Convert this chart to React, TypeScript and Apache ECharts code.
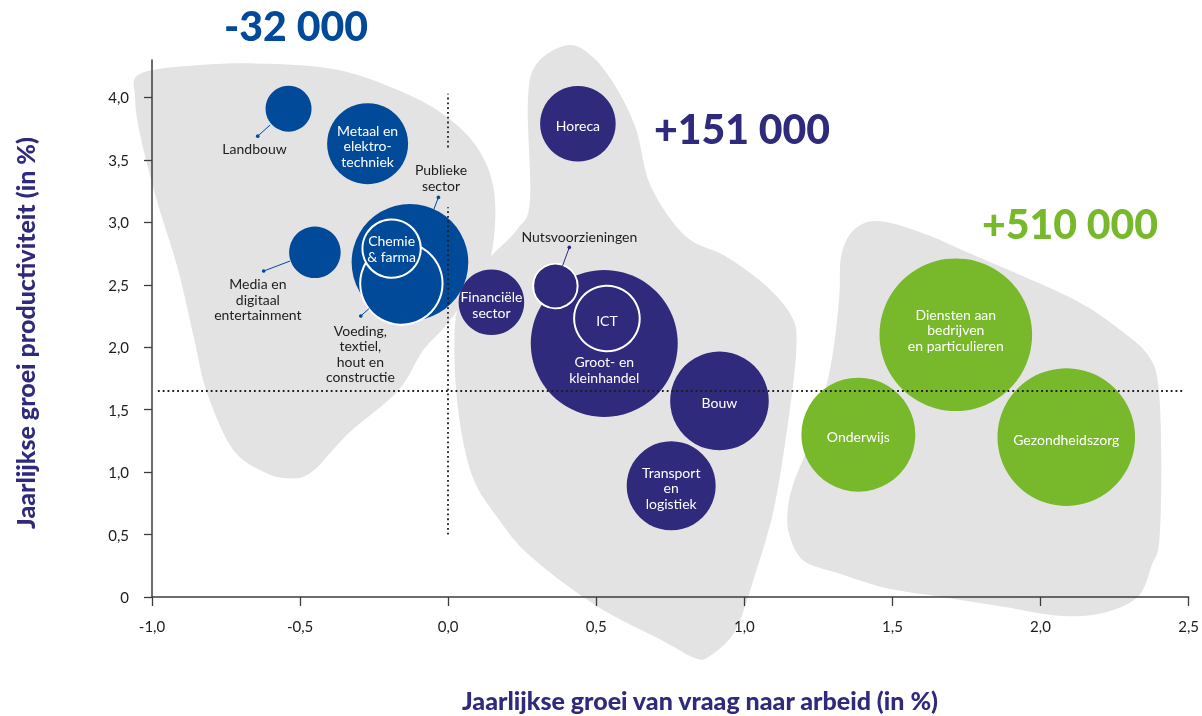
import { useEffect, useRef } from 'react';
import * as echarts from 'echarts';

// ---------- data ----------
const sectors = [
  'Landbouw',
  'Metaal en elektrotechniek',
  'Media en digitaal entertainment',
  'Publieke sector',
  'Voeding, textiel, hout en constructie',
  'Chemie & farma',
  'Financiële sector',
  'Horeca',
  'Groot- en kleinhandel',
  'ICT',
  'Nutsvoorzieningen',
  'Bouw',
  'Transport en logistiek',
  'Diensten aan bedrijven en particulieren',
  'Onderwijs',
  'Gezondheidszorg',
];
const labelTexts = [
  'Landbouw',
  'Metaal en\nelektro-\ntechniek',
  'Media en\ndigitaal\nentertainment',
  'Publieke\nsector',
  'Voeding,\ntextiel,\nhout en\nconstructie',
  'Chemie\n& farma',
  'Financiële\nsector',
  'Horeca',
  'Groot- en\nkleinhandel',
  'ICT',
  'Nutsvoorzieningen',
  'Bouw',
  'Transport\nen\nlogistiek',
  'Diensten aan\nbedrijven\nen particulieren',
  'Onderwijs',
  'Gezondheidszorg',
];
// x: yearly growth of labour demand (%)
const demandGrowth = [-0.539, -0.272, -0.45, -0.129, -0.158, -0.191, 0.146, 0.438, 0.527, 0.536, 0.362, 0.916, 0.753, 1.714, 1.385, 2.087];
// y: yearly productivity growth (%)
const productivityGrowth = [3.91, 3.63, 2.76, 2.68, 2.51, 2.79, 2.36, 3.79, 2.03, 2.23, 2.49, 1.57, 0.89, 2.1, 1.3, 1.28];
// bubble area: employment (thousands, estimated)
const employment = [132, 410, 166, 850, 424, 213, 269, 357, 1350, 269, 124, 608, 495, 1455, 812, 1183];
// cluster index per sector
const clusterOf = [0, 0, 0, 0, 0, 0, 1, 1, 1, 1, 1, 1, 1, 2, 2, 2];
const clusterTotals = ['-32 000', '+151 000', '+510 000'];

const xTicks = [-1, -0.5, 0, 0.5, 1, 1.5, 2, 2.5];
const yTicks = [0, 0.5, 1, 1.5, 2, 2.5, 3, 3.5, 4];

const xAxisTitle = 'Jaarlijkse groei van vraag naar arbeid (in %)';
const yAxisTitle = 'Jaarlijkse groei productiviteit (in %)';

// reference lines
const meanProductivity = 1.65;
const hLineRange = [-0.98, 2.48];
const vLineSegments = [[0.5, 3.12], [3.6, 4.03]];

// background cluster outlines (data units)
const blobLeft = [
  [-1.04, 4.19], [-0.839, 4.26], [-0.605, 4.27], [-0.371, 4.22], [-0.17, 4.06], [-0.019, 3.87],
  [0.098, 3.6], [0.155, 3.25], [0.148, 2.77], [0.091, 2.51], [-0.002, 2.19], [-0.086, 1.97],
  [-0.17, 1.65], [-0.337, 1.31], [-0.461, 1.0], [-0.538, 0.95], [-0.622, 1.0], [-0.729, 1.19],
  [-0.816, 1.65], [-0.856, 2.05], [-0.913, 2.63], [-0.983, 3.17], [-1.04, 3.7], [-1.057, 4.0],
];
const blobMiddle = [
  [0.406, 4.42], [0.49, 4.32], [0.567, 4.08], [0.634, 3.75], [0.684, 3.29], [0.801, 2.89],
  [0.935, 2.73], [1.069, 2.5], [1.159, 2.25], [1.176, 2.01], [1.153, 1.49], [1.102, 0.73],
  [1.035, 0.17], [0.969, -0.27], [0.885, -0.47], [0.835, -0.49], [0.724, -0.35], [0.5, -0.07],
  [0.276, 0.33], [0.165, 0.64], [0.081, 0.97], [0.034, 1.49], [0.021, 2.05], [0.041, 2.37],
  [0.122, 2.67], [0.232, 2.94], [0.276, 3.17], [0.269, 3.96], [0.299, 4.27],
];
const blobRight = [
  [1.454, 3.01], [1.605, 2.91], [1.772, 2.74], [2.107, 2.39], [2.274, 2.13], [2.365, 1.93],
  [2.398, 1.69], [2.408, 1.09], [2.401, 0.45], [2.375, 0.25], [2.328, 0.0], [2.207, -0.13],
  [2.067, -0.15], [1.879, -0.08], [1.668, 0.0], [1.481, 0.07], [1.317, 0.19], [1.2, 0.29],
  [1.153, 0.49], [1.146, 0.69], [1.169, 0.93], [1.236, 1.33], [1.293, 1.87], [1.32, 2.39],
  [1.327, 2.73], [1.37, 2.94],
];
const blobs = [blobLeft, blobMiddle, blobRight];

// leader lines for labels placed outside bubbles: [xBubbleEdge, yBubbleEdge, xDot, yDot, cluster]
const leaderLines = [
  [-0.601, 3.78, -0.643, 3.69, 0],
  [-0.534, 2.69, -0.623, 2.61, 0],
  [-0.049, 3.1, -0.033, 3.2, 0],
  [-0.267, 2.31, -0.295, 2.25, 0],
  [0.386, 2.65, 0.409, 2.8, 1],
];

// ---------- styles ----------
const clusterColors = ['#004a99', '#2f2a7b', '#78b82b'];
const blobColor = '#e3e3e3';
const FONT = 'Lato, "Open Sans", sans-serif';
const outsideLabel = [true, false, true, true, true, false, false, false, false, false, true, false, false, false, false, false];
const labelOffsets = [
  [-34, 40], [0, 2], [-57, 47], [31, -85], [-41, 70], [0, 0], [0, 2], [0, 2],
  [0, 26], [0, 2], [24, -50], [0, 2], [0, 2], [0, -5], [0, 2], [0, 2],
];
const whiteBorder = [false, false, false, false, true, true, false, false, false, true, true, false, false, false, false, false];

function smoothClosedPath(pts: number[][]) {
  const n = pts.length;
  let d = `M${pts[0][0]},${pts[0][1]}`;
  for (let i = 0; i < n; i++) {
    const p0 = pts[(i - 1 + n) % n];
    const p1 = pts[i];
    const p2 = pts[(i + 1) % n];
    const p3 = pts[(i + 2) % n];
    const c1 = [p1[0] + (p2[0] - p0[0]) / 6, p1[1] + (p2[1] - p0[1]) / 6];
    const c2 = [p2[0] - (p3[0] - p1[0]) / 6, p2[1] - (p3[1] - p1[1]) / 6];
    d += `C${c1[0]},${c1[1]} ${c2[0]},${c2[1]} ${p2[0]},${p2[1]}`;
  }
  return d + 'Z';
}

const fmtX = (v: number) => v.toFixed(1).replace('.', ',');
const fmtY = (v: number) => (v === 0 ? '0' : v.toFixed(1).replace('.', ','));

export default function App() {
  const ref = useRef<HTMLDivElement>(null);

  useEffect(() => {
    if (!ref.current) return;
    const chart = echarts.init(ref.current, undefined, { renderer: 'svg' });

    const bubbleData = sectors.map((name, i) => {
      const c = clusterColors[clusterOf[i]];
      return {
        name,
        value: [demandGrowth[i], productivityGrowth[i], employment[i]],
        itemStyle: {
          color: c,
          opacity: 1,
          borderColor: whiteBorder[i] ? '#ffffff' : c,
          borderWidth: whiteBorder[i] ? 2 : 0,
        },
        label: {
          position: 'inside',
          offset: labelOffsets[i],
          color: outsideLabel[i] ? '#1d1d1b' : '#ffffff',
        },
      };
    });

    const axisColor = '#3c3c3c';

    chart.setOption({
      animation: false,
      grid: { left: 152, right: 12, top: 60, bottom: 119, containLabel: false },
      xAxis: {
        type: 'value',
        min: -1,
        max: 2.5,
        interval: 0.5,
        splitLine: { show: false },
        axisLine: { show: true, onZero: false, lineStyle: { color: axisColor, width: 1.5 } },
        axisTick: { show: true, length: 9, lineStyle: { color: axisColor, width: 1.3 } },
        axisLabel: {
          margin: 21,
          fontSize: 15,
          fontFamily: FONT,
          color: '#1d1d1b',
          formatter: (v: number) => fmtX(v),
          customValues: xTicks,
        },
      },
      yAxis: {
        type: 'value',
        min: 0,
        max: 4.3,
        splitLine: { show: false },
        axisLine: { show: true, onZero: false, lineStyle: { color: axisColor, width: 1.5 } },
        axisTick: { show: true, length: 8, customValues: yTicks, lineStyle: { color: axisColor, width: 1.3 } },
        axisLabel: {
          margin: 23,
          fontSize: 15,
          fontFamily: FONT,
          color: '#1d1d1b',
          customValues: yTicks,
          formatter: (v: number) => fmtY(v),
        },
      },
      series: [
        {
          type: 'custom',
          name: 'clusters',
          silent: true,
          z: 0,
          data: blobs.map((_, i) => [0, 0, i]),
          encode: { x: 0, y: 1 },
          renderItem: (params: any, api: any) => {
            const pts = blobs[params.dataIndex].map((p) => api.coord(p));
            return {
              type: 'path',
              shape: { pathData: smoothClosedPath(pts) },
              style: { fill: blobColor },
            };
          },
        },
        {
          type: 'scatter',
          name: 'sectoren',
          silent: true,
          z: 2,
          data: bubbleData,
          symbol: 'circle',
          symbolSize: (val: number[]) => 4 * Math.sqrt(val[2]),
          itemStyle: { opacity: 1 },
          label: {
            show: true,
            fontFamily: FONT,
            fontSize: 14,
            lineHeight: 15.5,
            formatter: (p: any) => labelTexts[p.dataIndex],
          },
          emphasis: { disabled: true },
        },
        {
          type: 'custom',
          name: 'leaders',
          silent: true,
          z: 3,
          data: leaderLines,
          encode: { x: [0, 2], y: [1, 3] },
          renderItem: (params: any, api: any) => {
            const a = api.coord([api.value(0), api.value(1)]);
            const b = api.coord([api.value(2), api.value(3)]);
            const col = clusterColors[api.value(4)];
            return {
              type: 'group',
              children: [
                { type: 'line', shape: { x1: a[0], y1: a[1], x2: b[0], y2: b[1] }, style: { stroke: col, lineWidth: 1 } },
                { type: 'circle', shape: { cx: b[0], cy: b[1], r: 1.8 }, style: { fill: col } },
              ],
            };
          },
        },
        {
          type: 'line',
          name: 'ref',
          silent: true,
          z: 5,
          data: [],
          markLine: {
            silent: true,
            symbol: 'none',
            label: { show: false },
            lineStyle: { color: '#1d1d1b', width: 1.8, type: [1.8, 3] },
            data: [
              [{ coord: [hLineRange[0], meanProductivity] }, { coord: [hLineRange[1], meanProductivity] }],
              ...vLineSegments.map((s) => [{ coord: [0, s[0]] }, { coord: [0, s[1]] }]),
            ],
          },
        },
      ],
      graphic: [
        {
          type: 'text', x: 296, y: 25, silent: true,
          style: { text: clusterTotals[0], fill: clusterColors[0], font: `900 41px ${FONT}`, align: 'center', verticalAlign: 'middle' },
        },
        {
          type: 'text', x: 742, y: 128, silent: true,
          style: { text: clusterTotals[1], fill: clusterColors[1], font: `900 41px ${FONT}`, align: 'center', verticalAlign: 'middle' },
        },
        {
          type: 'text', x: 1070, y: 223, silent: true,
          style: { text: clusterTotals[2], fill: clusterColors[2], font: `900 41px ${FONT}`, align: 'center', verticalAlign: 'middle' },
        },
        {
          type: 'text', x: 700, y: 700, silent: true,
          style: { text: xAxisTitle, fill: '#2f2a7b', font: `900 25px ${FONT}`, align: 'center', verticalAlign: 'middle' },
        },
        {
          type: 'text', x: 25, y: 333, rotation: Math.PI / 2, silent: true,
          style: { text: yAxisTitle, fill: '#2f2a7b', font: `900 25px ${FONT}`, align: 'center', verticalAlign: 'middle' },
        },
      ],
    });

    return () => chart.dispose();
  }, []);

  return <div ref={ref} style={{ position: 'fixed', left: 0, top: 0, width: 1202, height: 716 }} />;
}
